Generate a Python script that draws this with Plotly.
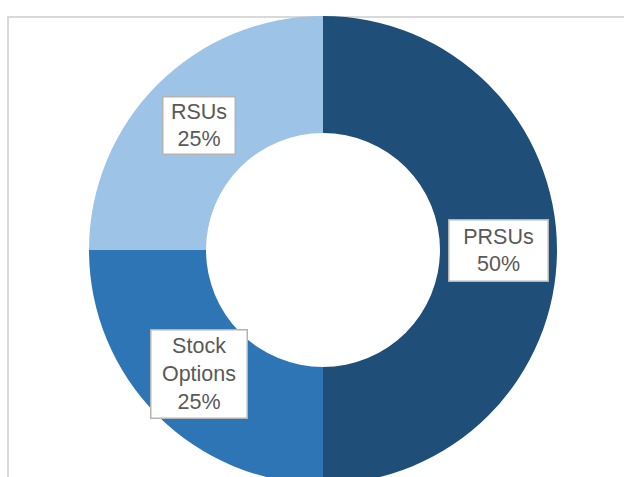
import math
import plotly.graph_objects as go

# ---- data ----
categories = ["PRSUs", "Stock Options", "RSUs"]
values = [50, 25, 25]
label_text = ["PRSUs<br>50%", "Stock<br>Options<br>25%", "RSUs<br>25%"]

# ---- style ----
colors = ["#1F4E79", "#2E75B6", "#9DC3E6"]
box_size = {"PRSUs": (94, 56), "Stock Options": (91, 83), "RSUs": (67, 52)}

W, H = 624, 500
CX, CY, R = 323, 250, 234          # pixel centre / outer radius of the donut
HOLE = 0.5

fig = go.Figure(go.Pie(
    labels=categories,
    values=values,
    sort=False,
    direction="clockwise",
    rotation=0,
    hole=HOLE,
    marker=dict(colors=colors, line=dict(width=0)),
    textinfo="none",
    hoverinfo="label+percent",
    showlegend=False,
    domain=dict(x=[(CX - R) / W, (CX + R) / W],
                y=[(H - CY - R) / H, (H - CY + R) / H]),
))

# labels placed at the middle of the ring, at each slice's mid-angle
total = sum(values)
cum = 0
r_lab = R * (1 + HOLE) / 2
for cat, v, txt in zip(categories, values, label_text):
    mid = (cum + v / 2) / total * 2 * math.pi
    cum += v
    px = CX + r_lab * math.sin(mid)
    py = CY - r_lab * math.cos(mid)
    bw, bh = box_size[cat]
    fig.add_annotation(
        x=px / W, y=1 - py / H, xref="paper", yref="paper",
        xanchor="center", yanchor="middle",
        text=txt, showarrow=False,
        font=dict(family="Liberation Sans, Arial, sans-serif", size=21.5, color="#595959"),
        bgcolor="#FFFFFF", bordercolor="#B4B4B4", borderwidth=1.5, borderpad=2,
        width=bw, height=bh, align="center", valign="middle",
    )

# light grey chart-area frame (top and left visible)
fig.add_shape(type="rect", xref="paper", yref="paper",
              x0=8 / W, x1=1.2, y0=-0.2, y1=1 - 17 / H,
              line=dict(color="#D9D9D9", width=2), layer="below")

fig.update_layout(
    width=W, height=H,
    margin=dict(l=0, r=0, t=0, b=0),
    paper_bgcolor="#FFFFFF",
    plot_bgcolor="#FFFFFF",
)

fig.write_html(
    "out.html",
    config={"displayModeBar": False},
    post_script="document.documentElement.style.overflow='hidden';"
                "document.body.style.overflow='hidden';document.body.style.margin='0';",
)
